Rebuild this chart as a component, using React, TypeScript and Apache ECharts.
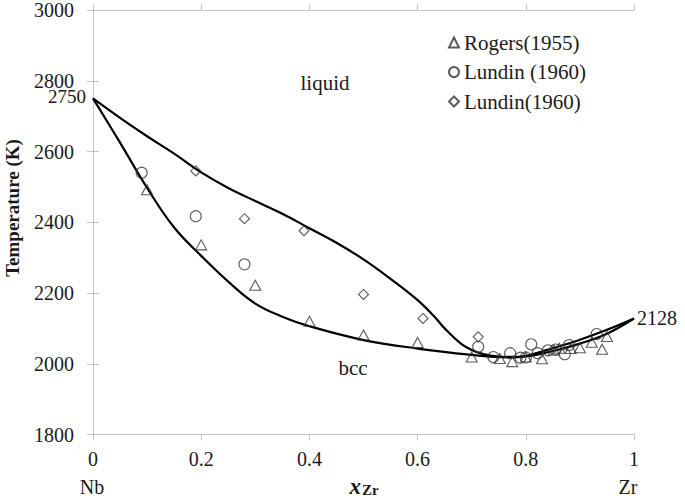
import React, { useEffect, useRef } from "react";
import * as echarts from "echarts";

const xTicks = [0, 0.2, 0.4, 0.6, 0.8, 1];
const yTicks = [1800, 2000, 2200, 2400, 2600, 2800, 3000];

const liquidus: [number, number][] = [
  [0, 2750], [0.05, 2695], [0.1, 2643], [0.15, 2594], [0.2, 2541], [0.25, 2497],
  [0.3, 2460], [0.35, 2424], [0.4, 2383], [0.45, 2342], [0.5, 2295], [0.55, 2240],
  [0.6, 2180], [0.63, 2135], [0.65, 2100], [0.68, 2057], [0.7, 2039], [0.72, 2028],
  [0.75, 2020], [0.78, 2018], [0.8, 2022], [0.85, 2044], [0.9, 2068], [0.95, 2096], [1, 2128],
];

const solidus: [number, number][] = [
  [0, 2750], [0.05, 2625], [0.1, 2497], [0.15, 2385], [0.2, 2305], [0.25, 2232],
  [0.3, 2170], [0.35, 2133], [0.4, 2106], [0.5, 2067], [0.6, 2043], [0.7, 2025],
  [0.75, 2019], [0.8, 2021], [0.85, 2036], [0.9, 2057], [0.95, 2085], [1, 2128],
];

const rogers1955: [number, number][] = [
  [0.1, 2492], [0.2, 2336], [0.3, 2222], [0.4, 2120], [0.5, 2081], [0.6, 2060],
  [0.7, 2019], [0.752, 2015], [0.775, 2006], [0.8, 2019], [0.83, 2014], [0.852, 2039],
  [0.862, 2044], [0.883, 2043], [0.9, 2045], [0.922, 2061], [0.941, 2041], [0.95, 2077],
];

const lundinCircle: [number, number][] = [
  [0.09, 2540], [0.19, 2417], [0.28, 2281], [0.712, 2048], [0.74, 2019], [0.771, 2030],
  [0.79, 2017], [0.8, 2018], [0.81, 2055], [0.822, 2030], [0.841, 2038], [0.855, 2040],
  [0.872, 2027], [0.88, 2053], [0.931, 2084],
];

const lundinDiamond: [number, number][] = [
  [0.19, 2545], [0.28, 2410], [0.39, 2376], [0.5, 2196], [0.61, 2128], [0.712, 2076],
];

const FONT = "Liberation Serif";
const AXIS_GRAY = "#c4c4c4";
const TEXT = "#1a1a1a";

function txt(text: string, x: number, y: number, size: number, align: string, extra: any = {}) {
  return {
    type: "text",
    x,
    y,
    ...extra,
    style: {
      text,
      fontFamily: FONT,
      fontSize: size,
      fontWeight: extra.bold ? "bold" : "normal",
      fill: TEXT,
      align,
      verticalAlign: "middle",
      textAlign: align,
      textVerticalAlign: "middle",
    },
  };
}

export default function App() {
  const ref = useRef<HTMLDivElement>(null);
  useEffect(() => {
    if (!ref.current) return;
    const chart = echarts.init(ref.current, undefined, { renderer: "svg" });
    const markerStyle = {
      color: "rgba(255,255,255,0)",
      borderColor: "#333",
      borderWidth: 1.1,
    };
    const axisCommon = {
      splitLine: { show: false },
      axisLine: { show: true, lineStyle: { color: AXIS_GRAY, width: 1 } },
      axisTick: { show: true, inside: false, length: 6, lineStyle: { color: AXIS_GRAY } },
    };
    chart.setOption({
      animation: false,
      backgroundColor: "#fff",
      textStyle: { fontFamily: FONT },
      grid: { left: 93, right: 51, top: 9, bottom: 64.5 },
      legend: {
        orient: "vertical",
        left: 443,
        top: 27,
        itemWidth: 10,
        itemHeight: 10,
        itemGap: 8.5,
        data: ["Rogers(1955)", "Lundin (1960)", "Lundin(1960)"],
        textStyle: { fontFamily: FONT, fontSize: 21, color: TEXT, lineHeight: 21 },
      },
      xAxis: [
        {
          type: "value",
          min: xTicks[0],
          max: xTicks[xTicks.length - 1],
          interval: 0.2,
          position: "bottom",
          ...axisCommon,
          axisLabel: {
            margin: 14,
            fontFamily: FONT,
            fontSize: 20,
            color: TEXT,
            formatter: (v: number) => (v === 0 ? "0" : v === 1 ? "1" : v.toFixed(1)),
          },
        },
        {
          type: "value",
          min: xTicks[0],
          max: xTicks[xTicks.length - 1],
          interval: 0.2,
          position: "top",
          ...axisCommon,
          axisLabel: { show: false },
        },
      ],
      yAxis: [
        {
          type: "value",
          min: yTicks[0],
          max: yTicks[yTicks.length - 1],
          interval: 200,
          position: "left",
          ...axisCommon,
          axisLabel: {
            margin: 19,
            fontFamily: FONT,
            fontSize: 20,
            color: TEXT,
            formatter: (v: number) => String(v),
          },
        },
        {
          type: "value",
          min: yTicks[0],
          max: yTicks[yTicks.length - 1],
          interval: 200,
          position: "right",
          ...axisCommon,
          axisLabel: { show: false },
        },
      ],
      series: [
        {
          name: "liquidus",
          type: "line",
          data: liquidus,
          smooth: 0.4,
          symbol: "none",
          lineStyle: { color: "#000", width: 2.2 },
          z: 2,
        },
        {
          name: "solidus",
          type: "line",
          data: solidus,
          smooth: 0.4,
          symbol: "none",
          lineStyle: { color: "#000", width: 2.2 },
          z: 2,
        },
        {
          name: "Rogers(1955)",
          type: "scatter",
          data: rogers1955,
          symbol: "triangle",
          symbolSize: [11, 10],
          itemStyle: markerStyle,
          z: 3,
        },
        {
          name: "Lundin (1960)",
          type: "scatter",
          data: lundinCircle,
          symbol: "circle",
          symbolSize: 11,
          itemStyle: markerStyle,
          z: 3,
        },
        {
          name: "Lundin(1960)",
          type: "scatter",
          data: lundinDiamond,
          symbol: "diamond",
          symbolSize: [10, 10],
          itemStyle: markerStyle,
          z: 3,
        },
      ],
      graphic: [
        txt("Temperature (K)", 12, 208, 19, "center", { rotation: Math.PI / 2, bold: true }),
        txt("2750", 86, 96, 19, "right"),
        txt("2128", 637, 318, 20, "left"),
        txt("liquid", 325, 83, 21, "center"),
        txt("bcc", 353, 368, 21, "center"),
        txt("Nb", 92, 487, 20, "center"),
        txt("Zr", 628, 487, 20, "center"),
        {
          type: "text",
          x: 364,
          y: 486,
          style: {
            text: "{a|x}{b|Zr}",
            align: "center",
            verticalAlign: "middle",
            textAlign: "center",
            textVerticalAlign: "middle",
            rich: {
              a: { fontFamily: FONT, fontSize: 23, fontWeight: "bold", fontStyle: "italic", fill: TEXT, color: TEXT },
              b: { fontFamily: FONT, fontSize: 15, fontWeight: "bold", fill: TEXT, color: TEXT, padding: [8, 0, 0, 1] },
            },
          },
        },
      ],
    });
    return () => chart.dispose();
  }, []);
  return (
    <div
      ref={ref}
      style={{ position: "absolute", left: 0, top: 0, width: 685, height: 499, overflow: "hidden" }}
    />
  );
}
